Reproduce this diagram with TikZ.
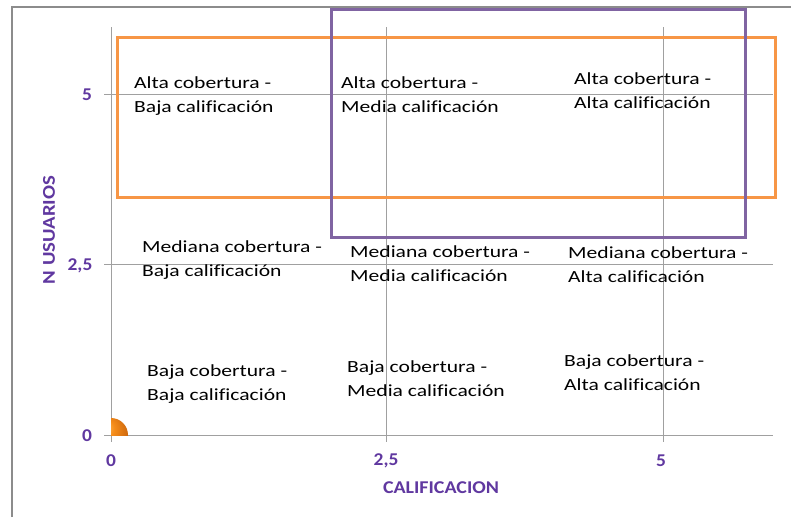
\documentclass[tikz,border=0pt]{standalone}
\usepackage{fontspec}
\usepackage{graphicx}
\setmainfont[Ligatures={NoCommon}]{Carlito}
\definecolor{gridgray}{RGB}{160,160,160}
\definecolor{framegray}{RGB}{140,140,140}
\definecolor{boxorange}{RGB}{247,150,70}
\definecolor{boxpurple}{RGB}{128,100,162}
\definecolor{labpurple}{RGB}{96,56,160}
\definecolor{dotlight}{RGB}{255,200,110}
\definecolor{dotmid}{RGB}{245,140,25}
\definecolor{dotdark}{RGB}{190,90,10}
\definecolor{dotedge}{RGB}{70,40,20}
\pgfdeclareradialshading{orangeball}{\pgfpoint{-12bp}{12bp}}{color(0bp)=(dotlight); color(14bp)=(dotmid); color(38bp)=(dotdark); color(50bp)=(dotedge); color(60bp)=(dotedge)}
\newcommand{\celltext}[2]{\scalebox{1.27}[1]{\begin{tabular}{@{}l@{}}#1\\#2\end{tabular}}}
\newcommand{\widelab}[2]{\scalebox{#1}[1]{#2}}
\begin{document}
\begin{tikzpicture}[x=1pt,y=-1pt,
  cell/.style={anchor=west,inner sep=0pt,font=\fontsize{17}{24}\selectfont},
  ticklab/.style={text=labpurple,font=\bfseries\fontsize{18}{18}\selectfont,inner sep=0pt},
  axtitle/.style={text=labpurple,font=\bfseries\fontsize{18}{18}\selectfont,inner sep=0pt},
  gridline/.style={draw=gridgray,line width=1pt},
  zonebox/.style={line width=3pt}]
\useasboundingbox (0,0) rectangle (791,517);
\fill[white] (0,0) rectangle (791,517);
% outer frame
\draw[framegray,line width=1.6pt] (12,517) -- (12,7) -- (791,7);
% grid
\coordinate (o) at (111,435);
\foreach \x in {111,386,663} \draw[gridline] (\x,27) -- (\x,442);
\foreach \y in {94,264,435} \draw[gridline] (104,\y) -- (773,\y);
% origin dot
\begin{scope}
\clip (o) rectangle ++(20,-20);
\shade[shading=orangeball] (o) circle (17);
\end{scope}
% tick labels
\node[ticklab] (y5) at (87,95) {\widelab{1.08}{5}};
\node[ticklab] (y25) at (80,266) {\widelab{1.08}{2,5}};
\node[ticklab] (y0) at (87,436) {\widelab{1.08}{0}};
\node[ticklab] (x0) at (111,461) {\widelab{1.08}{0}};
\node[ticklab] (x25) at (386,461) {\widelab{1.08}{2,5}};
\node[ticklab] (x5) at (661,461) {\widelab{1.08}{5}};
\node[axtitle] (xt) at (441,488) {\widelab{1.11}{CALIFICACION}};
\node[axtitle,rotate=90] (yt) at (49,230) {\widelab{1.15}{N USUARIOS}};
% zone boxes
\draw[zonebox,boxorange] (117,37) rectangle (775,197) node[coordinate] (ob) {};
\draw[zonebox,boxpurple] (331,9) rectangle (745,237) node[coordinate] (pb) {};
% cell labels
\node[cell] (c11) at (134,96) {\celltext{Alta cobertura -}{Baja calificación}};
\node[cell] (c12) at (341,96) {\celltext{Alta cobertura -}{Media calificación}};
\node[cell] (c13) at (574,92) {\celltext{Alta cobertura -}{Alta calificación}};
\node[cell] (c21) at (142,260) {\celltext{Mediana cobertura -}{Baja calificación}};
\node[cell] (c22) at (350,265) {\celltext{Mediana cobertura -}{Media calificación}};
\node[cell] (c23) at (568,266) {\celltext{Mediana cobertura -}{Alta calificación}};
\node[cell] (c31) at (147,384) {\celltext{Baja cobertura -}{Baja calificación}};
\node[cell] (c32) at (347,380) {\celltext{Baja cobertura -}{Media calificación}};
\node[cell] (c33) at (564,374) {\celltext{Baja cobertura -}{Alta calificación}};
\end{tikzpicture}
\end{document}
